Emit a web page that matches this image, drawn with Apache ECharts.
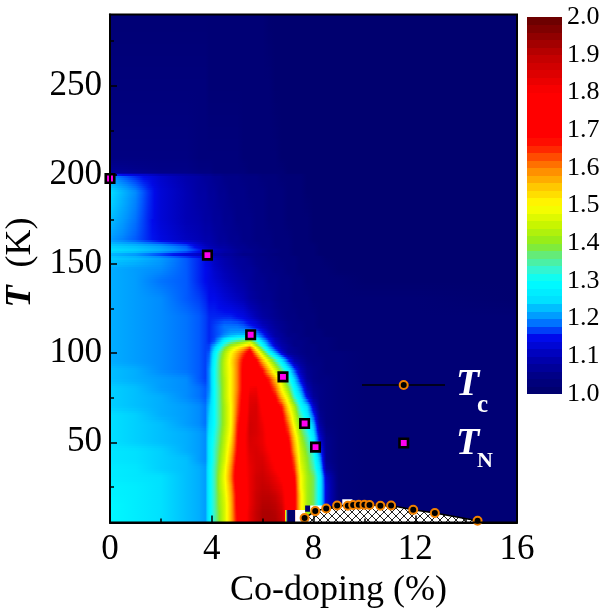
<!DOCTYPE html>
<html><head><meta charset="utf-8">
<style>html,body{margin:0;padding:0;background:#fff}#c{width:603px;height:608px}</style>
<script src="https://cdn.jsdelivr.net/npm/echarts@6/dist/echarts.min.js"></script>
</head><body><div id="c"></div>
<script>
// Co-doping nodes (%) of the map
const dopingNodes=[0,1,2,3,3.5,3.75,3.9, 4.1,4.3,4.5,4.75,5,5.25,5.5, 5.75,6,6.25,6.5,6.75,7,7.25,7.5, 7.75,8,8.25,8.5,9,10,12,16];
// Temperature rows (K)
const tempRows=[290,250,210,201,199,190,175,163,160,157,155,153,147,140,130,120,115,112,110,108,106,104,102,100,95,90,85,80,75,70,65,60,55,50,45,40,35,30,25,20,15,10,5];
// Map value x100, one line per temperature row
const mapValues=[
[102,102,102,102,102,102,102, 102,102,102,102,102,102,102, 102,102,101,101,101,101,101,101, 101,101,101,101,101,101,101,101],
[103,103,103,103,103,103,102, 102,102,102,102,102,102,102, 102,102,102,101,101,101,101,101, 101,101,101,101,101,101,101,101],
[104,104,104,104,103,103,103, 103,103,103,103,103,102,102, 102,102,102,102,101,101,101,101, 101,101,101,101,101,101,101,101],
[107,106,105,105,104,104,104, 103,103,103,103,103,103,102, 102,102,102,102,102,101,101,101, 101,101,101,101,101,101,101,101],
[120,116,112,109,108,107,107, 106,106,105,105,105,104,104, 104,103,103,103,102,102,102,102, 101,101,101,101,101,101,101,101],
[125,120,113,110,108,108,107, 107,106,106,105,105,105,104, 104,104,103,103,103,102,102,102, 101,101,101,101,101,101,101,101],
[123,119,113,110,109,108,108, 107,107,106,106,105,105,105, 104,104,103,103,103,102,102,102, 102,101,101,101,101,101,101,101],
[121,118,114,111,110,109,109, 108,107,107,106,106,105,105, 104,104,104,103,103,103,102,102, 102,101,101,101,101,101,101,101],
[124,123,121,118,113,111,110, 109,108,108,107,106,106,105, 105,104,104,103,103,103,102,102, 102,102,101,101,101,101,101,101],
[125,124,122,119,116,114,113, 111,110,109,108,107,106,106, 105,105,104,104,103,103,102,102, 102,102,101,101,101,101,101,101],
[122,120,116,112,110,109,109, 108,108,107,107,106,105,105, 105,104,104,103,103,103,102,102, 102,102,101,101,101,101,101,101],
[124,123,121,118,116,114,113, 111,110,109,108,107,107,106, 105,105,104,104,103,103,103,102, 102,102,102,101,101,101,101,101],
[122,121,120,118,116,115,114, 112,111,110,109,108,107,107, 106,105,105,104,104,103,103,102, 102,102,102,102,101,101,101,101],
[122,121,119,118,116,115,114, 113,112,111,110,109,108,107, 106,106,105,105,104,104,103,103, 102,102,102,102,102,101,101,101],
[122,121,120,118,117,116,115, 115,114,113,112,111,110,108, 107,106,106,105,104,104,103,103, 103,102,102,102,102,102,102,101],
[122,121,120,119,118,117,116, 116,116,116,116,115,114,112, 110,108,107,106,105,104,104,103, 103,103,102,102,102,102,102,102],
[122,121,120,119,118,117,116, 117,118,119,119,119,118,116, 114,111,109,107,106,105,104,104, 103,103,102,102,102,102,102,102],
[122,121,120,119,118,117,116, 117,118,119,120,120,120,120, 118,114,110,108,106,105,104,104, 103,103,103,102,102,102,102,102],
[122,121,120,119,118,117,116, 117,118,120,122,123,123,124, 121,117,112,108,107,105,105,104, 103,103,103,102,102,102,102,102],
[122,121,120,119,118,117,116, 117,120,124,128,130,131,132, 126,119,114,110,107,106,105,104, 104,103,103,103,102,102,102,102],
[122,121,120,119,118,117,116, 118,123,130,135,138,141,145, 135,125,117,111,108,106,105,105, 104,103,103,103,102,102,102,102],
[122,121,120,119,118,117,117, 122,128,135,142,146,150,156, 142,130,120,113,109,107,105,105, 104,104,103,103,102,102,102,102],
[122,121,120,119,118,117,117, 124,131,139,146,152,158,166, 150,136,124,116,110,107,106,105, 104,104,103,103,102,102,102,102],
[122,121,120,119,118,117,118, 127,135,142,150,157,164,172, 158,144,131,122,113,107,106,105, 104,104,103,103,103,102,102,102],
[122,121,120,119,118,117,119, 129,137,144,152,160,169,174, 170,158,147,137,128,118,110,107, 105,104,104,103,103,102,102,102],
[123,122,120,119,118,117,120, 130,137,144,151,160,170,176, 173,167,156,146,136,128,118,110, 106,105,104,103,103,102,102,102],
[123,122,121,120,118,117,120, 130,137,143,151,160,170,178, 176,172,166,156,146,134,124,114, 107,105,104,104,103,102,102,102],
[124,123,121,120,119,118,120, 130,136,143,151,160,170,181, 182,174,170,162,150,140,129,120, 110,106,105,104,103,102,102,102],
[124,123,122,120,119,118,121, 130,136,143,151,161,171,184, 184,176,173,168,156,146,133,125, 114,107,105,104,103,102,102,102],
[124,123,122,121,120,119,123, 130,136,142,150,162,172,185, 186,178,174,172,166,152,142,130, 124,112,105,104,103,102,102,102],
[125,124,122,121,120,119,124, 130,136,142,150,163,173,186, 186,180,175,174,170,157,145,134, 127,117,106,104,103,102,102,102],
[125,124,123,121,120,119,125, 130,136,142,150,165,175,187, 186,182,176,175,172,162,148,138, 130,122,108,104,103,102,102,102],
[125,124,123,122,121,120,126, 131,137,143,151,166,177,187, 186,183,177,175,172,166,152,140, 133,125,111,105,103,102,102,102],
[125,124,123,122,121,120,127, 132,138,144,153,167,178,186, 185,183,178,176,173,170,156,143, 136,128,114,106,103,102,102,102],
[126,125,124,122,121,120,127, 133,139,145,155,168,178,185, 186,184,180,177,174,172,158,145, 138,131,118,106,103,102,102,102],
[126,125,124,123,121,120,127, 133,140,146,157,170,178,184, 186,186,182,178,175,174,162,146, 140,133,122,106,103,102,102,102],
[127,126,124,123,122,121,128, 134,141,148,159,172,178,183, 186,187,184,180,176,174,165,148, 141,135,125,108,103,102,102,102],
[127,126,125,123,122,121,128, 134,142,149,160,173,177,183, 187,188,186,183,179,175,168,150, 142,138,128,112,103,102,102,102],
[128,127,125,123,122,121,128, 134,142,148,158,172,176,183, 187,189,188,185,182,175,170,150, 142,138,128,113,103,102,102,102],
[128,127,125,123,122,121,128, 134,141,147,157,170,175,183, 188,190,190,188,184,176,170,152, 142,138,128,113,103,102,102,102],
[129,127,125,123,122,121,128, 134,141,146,156,170,175,183, 188,191,191,190,186,176,170,152, 142,138,128,113,103,102,102,102],
[129,127,125,123,122,121,128, 134,140,146,156,169,176,184, 189,192,192,191,188,177,170,152, 142,138,128,113,103,102,102,102],
[129,127,125,123,122,121,128, 134,140,146,156,168,176,184, 189,192,192,192,189,177,170,152, 142,138,128,113,103,102,102,102]
];
// Colour scale
const rampValues=[1.0,1.05,1.1,1.15,1.18,1.2,1.25,1.3,1.33,1.37,1.4,1.45,1.5,1.55,1.6,1.65,1.68,1.8,1.9,2.0];
const rampColors=[[0,0,105],[0,0,135],[0,0,180],[0,10,235],[0,90,255],[0,140,255],[0,225,255],[0,255,255],[50,245,210],[100,235,120],[140,235,30],[200,245,0],[255,255,0],[255,200,0],[255,130,0],[255,40,0],[255,0,0],[255,0,0],[190,0,0],[100,0,0]];
const colorbarLevels=[1,1.02,1.04,1.06,1.08,1.1,1.12,1.14,1.16,1.18,1.2,1.22,1.24,1.26,1.28,1.3,1.32,1.34,1.36,1.38,1.4,1.42,1.44,1.46,1.48,1.5,1.52,1.54,1.56,1.58,1.6,1.62,1.64,1.66,1.68,1.7,1.72,1.74,1.76,1.78,1.8,1.82,1.84,1.86,1.88,1.9,1.92,1.94,1.96,1.98,2];
// Measured points
const tcDoping=[7.65,8.07,8.5,8.93,9.35,9.56,9.78,10,10.2,10.63,11.05,11.92,12.77,14.45];
const tcTemp=[7.5,11.4,12.9,14.5,14.4,14.8,14.9,14.9,14.8,14.4,14.5,12.1,10.3,6];
const tnDoping=[0,3.83,5.53,6.8,7.65,8.08];
const tnTemp=[198,155,110.3,86.7,60.5,47.3];
// Blank patches in the low-T corner of the map: x0,T0,x1,T1,colour
const blankPatches=[
[6.88,5,6.93,12,'#ffe000'],[6.93,5,6.97,12,'#30e8c0'],[6.97,5,7.28,12,'#00006e'],[7.28,5,7.67,12,'#ffffff'],
[7.67,11,7.87,14.5,'#00006e'],[7.87,11,8.35,14.5,'#ffffff'],[9.13,14.5,9.53,18,'#ffffff']];
const yMajor=[50,100,150,200,250];
const yMinor=[25,75,125,175,225,275];
const serif='"Liberation Serif","Times New Roman",serif';

function colorOf(v){
  let i=0;
  while(i<rampValues.length-2&&v>rampValues[i+1])i++;
  const t=Math.max(0,Math.min(1,(v-rampValues[i])/(rampValues[i+1]-rampValues[i])));
  const a=rampColors[i],b=rampColors[i+1];
  return 'rgb('+a.map((c,k)=>Math.round(c+(b[k]-c)*t)).join(',')+')';
}
function rowGradient(row){
  const stops=[];
  for(let j=0;j<row.length-1;j++){
    const a=row[j]/100,b=row[j+1]/100,n=Math.max(1,Math.ceil(Math.abs(b-a)/0.02));
    for(let k=0;k<n;k++){
      const f=k/n;
      stops.push({offset:(dopingNodes[j]+(dopingNodes[j+1]-dopingNodes[j])*f)/16,color:colorOf(a+(b-a)*f)});
    }
  }
  stops.push({offset:1,color:colorOf(row[row.length-1]/100)});
  return {type:'linear',x:0,y:0,x2:1,y2:0,global:false,colorStops:stops};
}
// Shading strips: each gap between two rows is painted as thin bands blending them
const shadeStrips=[];
for(let i=0;i<tempRows.length-1;i++){
  const hi=tempRows[i],lo=tempRows[i+1],n=Math.max(1,Math.round((hi-lo)*1.783/2));
  for(let k=0;k<n;k++){
    const f=(k+0.5)/n;
    shadeStrips.push({hi:hi-(hi-lo)*k/n,lo:hi-(hi-lo)*(k+1)/n,
      fill:rowGradient(mapValues[i].map((v,j)=>v+(mapValues[i+1][j]-v)*f))});
  }
}
const hatch=document.createElement('canvas');hatch.width=8;hatch.height=8;
(function(){const g=hatch.getContext('2d');g.fillStyle='#fff';g.fillRect(0,0,8,8);g.strokeStyle='#222';g.lineWidth=1;
g.beginPath();g.moveTo(0,0);g.lineTo(8,8);g.moveTo(8,0);g.lineTo(0,8);g.stroke();})();

const chart=echarts.init(document.getElementById('c'),null,{renderer:'canvas'});
const labelBase={fontFamily:serif,color:'#000'};
chart.setOption({
  backgroundColor:'#fff',animation:false,
  grid:[{left:110,top:14.5,width:407,height:508,containLabel:false,outerBoundsMode:'none'},{left:527,top:17,width:35,height:377,outerBoundsMode:'none'}],
  xAxis:[
   {gridIndex:0,type:'value',min:0,max:16,interval:4,z:6,
    name:'Co-doping (%)',nameLocation:'middle',nameGap:47,nameTextStyle:{fontFamily:serif,fontSize:36,color:'#000',padding:[0,0,0,50]},
    axisLine:{lineStyle:{color:'#000',width:2}},axisTick:{inside:true,length:7,lineStyle:{color:'#000',width:1.5}},
    minorTick:{show:true,splitNumber:2,length:4,lineStyle:{color:'#000',width:1.5}},
    splitLine:{show:false},axisLabel:Object.assign({fontSize:35,margin:10},labelBase)},
   {gridIndex:1,type:'value',min:0,max:1,show:false}],
  yAxis:[
   {gridIndex:0,type:'value',min:5,max:290,z:6,
    name:'{i|T}  (K)',nameLocation:'middle',nameGap:62,nameTextStyle:{fontFamily:serif,fontSize:36,color:'#000',padding:[0,0,0,12],rich:{i:{fontFamily:serif,fontSize:36,fontStyle:'italic',fontWeight:'bold',color:'#000'}}},
    axisLine:{lineStyle:{color:'#000',width:2}},
    axisTick:{inside:true,length:7,customValues:yMajor,lineStyle:{color:'#000',width:1.5}},
    splitLine:{show:false},axisLabel:Object.assign({fontSize:35,margin:8,customValues:yMajor},labelBase)},
   {gridIndex:0,type:'value',min:5,max:290,z:6,position:'left',
    axisLine:{show:false},axisTick:{inside:true,length:4,customValues:yMinor,lineStyle:{color:'#000',width:1.5}},
    axisLabel:{show:false},splitLine:{show:false}},
   {gridIndex:1,type:'value',min:1,max:2,interval:0.1,position:'right',
    axisLine:{show:false},axisTick:{show:false},splitLine:{show:false},
    axisLabel:Object.assign({fontSize:26,margin:5,formatter:v=>v.toFixed(1)},labelBase)}],
  series:[
   {type:'custom',xAxisIndex:0,yAxisIndex:0,z:2,clip:true,silent:true,
    data:shadeStrips.map((s,i)=>[0,s.hi,i]),
    renderItem(p,api){
      const s=shadeStrips[api.value(2)];
      const a=api.coord([0,s.hi]),b=api.coord([16,s.lo]);
      const y0=Math.floor(a[1]),y1=Math.ceil(b[1]);
      return {type:'rect',shape:{x:a[0],y:y0,width:b[0]-a[0],height:y1-y0},style:{fill:s.fill}};
    }},
   {type:'custom',xAxisIndex:0,yAxisIndex:0,z:3,clip:true,silent:true,
    data:[[0,5]],
    renderItem(p,api){
      const pts=[api.coord([tcDoping[0],5])].concat(tcDoping.map((x,i)=>api.coord([x,tcTemp[i]])),[api.coord([14.45,5])]);
      return {type:'polygon',shape:{points:pts},style:{fill:{image:hatch,repeat:'repeat'}}};
    }},
   {type:'custom',xAxisIndex:0,yAxisIndex:0,z:4,clip:true,silent:true,
    data:blankPatches.map((r,i)=>[r[0],r[1],i]),
    renderItem(p,api){
      const r=blankPatches[api.value(2)],a=api.coord([r[0],r[3]]),b=api.coord([r[2],r[1]]);
      return {type:'rect',shape:{x:a[0],y:a[1],width:b[0]-a[0],height:b[1]-a[1]},style:{fill:r[4]}};
    }},
   {type:'line',name:'Tc',xAxisIndex:0,yAxisIndex:0,z:7,clip:true,silent:true,
    data:tcDoping.map((x,i)=>[x,tcTemp[i]]),symbol:'circle',symbolSize:8,showAllSymbol:true,
    lineStyle:{color:'#000',width:1.5},itemStyle:{color:'#000',borderColor:'#f08000',borderWidth:2,opacity:1}},
   {type:'scatter',name:'TN',xAxisIndex:0,yAxisIndex:0,z:7,clip:true,silent:true,
    data:tnDoping.map((x,i)=>[x,tnTemp[i]]),symbol:'rect',symbolSize:8.5,
    itemStyle:{color:'#ff00f0',borderColor:'#000',borderWidth:2.6,opacity:1}},
   {type:'custom',xAxisIndex:1,yAxisIndex:2,z:2,silent:true,
    data:colorbarLevels.slice(0,-1).map((v,i)=>[0,v,i]),
    renderItem(p,api){
      const i=api.value(2),lo=colorbarLevels[i],hi=colorbarLevels[i+1];
      const a=api.coord([0,hi]),b=api.coord([1,lo]);
      return {type:'rect',shape:{x:a[0],y:Math.floor(a[1]),width:b[0]-a[0],height:Math.ceil(b[1])-Math.floor(a[1])},style:{fill:colorOf((lo+hi)/2)}};
    }}
  ],
  graphic:[
   {type:'rect',z:20,silent:true,shape:{x:110,y:14.5,width:407,height:508},style:{fill:'none',stroke:'#000',lineWidth:2}},
   {type:'line',z:20,silent:true,shape:{x1:362,y1:385,x2:445,y2:385},style:{stroke:'#000',lineWidth:1.5}},
   {type:'circle',z:21,silent:true,shape:{cx:403.7,cy:385,r:4},style:{fill:'#000',stroke:'#f08000',lineWidth:2}},
   {type:'rect',z:21,silent:true,shape:{x:399.5,y:438.8,width:8.5,height:8.5},style:{fill:'#ff00f0',stroke:'#000',lineWidth:2.6}},
   {type:'text',z:21,silent:true,style:{text:'T',x:456,y:366,fill:'#fff',font:'italic bold 38px '+serif}},
   {type:'text',z:21,silent:true,style:{text:'c',x:477,y:393,fill:'#fff',font:'bold 25px '+serif}},
   {type:'text',z:21,silent:true,style:{text:'T',x:456,y:425,fill:'#fff',font:'italic bold 38px '+serif}},
   {type:'text',z:21,silent:true,style:{text:'N',x:477,y:450,fill:'#fff',font:'bold 22px '+serif}}
  ]
});
</script></body></html>
